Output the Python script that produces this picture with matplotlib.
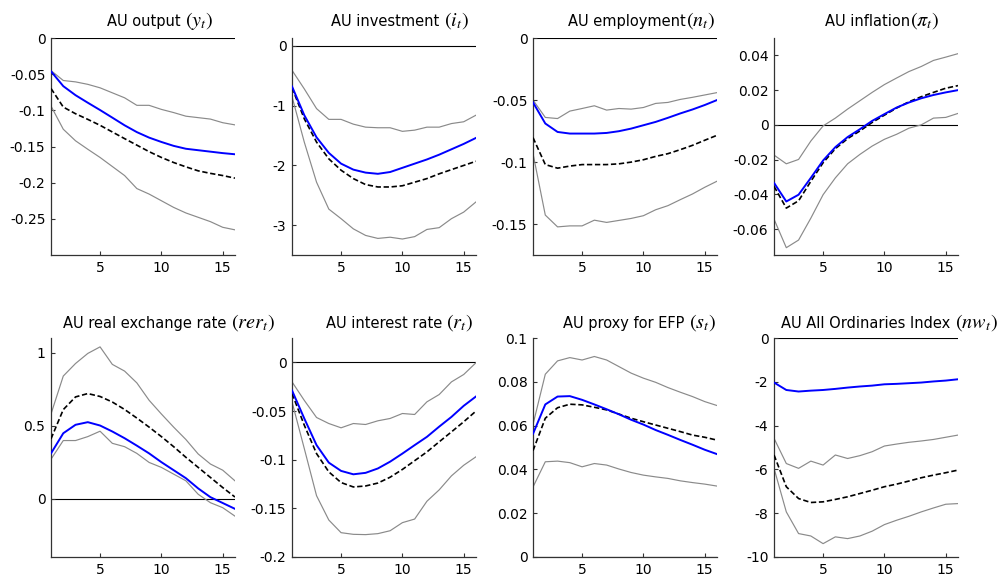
import matplotlib
matplotlib.use("Agg")
import matplotlib.pyplot as plt
import numpy as np

plt.rcParams['font.family'] = ['DejaVu Sans']
plt.rcParams['mathtext.fontset'] = 'stix'

horizon = list(range(1, 17))

title_plain = ["AU output ", "AU investment ", "AU employment", "AU inflation",
               "AU real exchange rate ", "AU interest rate ", "AU proxy for EFP ",
               "AU All Ordinaries Index "]
title_math = [r"$(y_t)$", r"$(i_t)$", r"$(n_t)$", r"$(\pi_t)$", r"$(rer_t)$",
              r"$(r_t)$", r"$(s_t)$", r"$(nw_t)$"]

# ---- output
output_blue = [-0.046, -0.0665, -0.079, -0.0894, -0.0995, -0.110, -0.1206, -0.130,
               -0.1376, -0.1436, -0.149, -0.153, -0.155, -0.157, -0.159, -0.1606]
output_dash = [-0.0697, -0.0954, -0.1046, -0.1124, -0.1206, -0.1298, -0.139, -0.148,
               -0.157, -0.165, -0.172, -0.178, -0.1835, -0.187, -0.190, -0.1936]
output_up = [-0.045, -0.0587, -0.0606, -0.064, -0.0688, -0.0757, -0.0826, -0.093,
             -0.093, -0.0986, -0.103, -0.108, -0.110, -0.112, -0.117, -0.120]
output_lo = [-0.094, -0.126, -0.142, -0.1537, -0.165, -0.1775, -0.190, -0.208,
             -0.2156, -0.2248, -0.234, -0.2417, -0.2477, -0.2537, -0.2615, -0.265]

# ---- investment
invest_blue = [-0.68, -1.16, -1.53, -1.79, -1.97, -2.07, -2.12, -2.14,
               -2.11, -2.04, -1.97, -1.90, -1.82, -1.73, -1.64, -1.54]
invest_dash = [-0.70, -1.22, -1.61, -1.89, -2.08, -2.22, -2.32, -2.36,
               -2.36, -2.34, -2.28, -2.22, -2.14, -2.07, -2.00, -1.93]
invest_up = [-0.41, -0.72, -1.05, -1.23, -1.23, -1.31, -1.36, -1.37,
             -1.37, -1.43, -1.41, -1.36, -1.36, -1.30, -1.27, -1.16]
invest_lo = [-0.85, -1.61, -2.28, -2.73, -2.89, -3.06, -3.17, -3.22,
             -3.20, -3.23, -3.19, -3.07, -3.04, -2.89, -2.78, -2.61]

# ---- employment
employ_blue = [-0.0519, -0.0689, -0.0757, -0.077, -0.077, -0.077, -0.0765, -0.0751,
               -0.073, -0.0703, -0.0676, -0.0643, -0.0608, -0.0576, -0.054, -0.050]
employ_dash = [-0.0803, -0.102, -0.1049, -0.1032, -0.102, -0.102, -0.102, -0.1014,
               -0.100, -0.0981, -0.0954, -0.0932, -0.090, -0.0865, -0.0824, -0.0784]
employ_up = [-0.050, -0.064, -0.0649, -0.0589, -0.0568, -0.0546, -0.0581, -0.0568,
             -0.0573, -0.056, -0.0527, -0.0519, -0.0495, -0.0478, -0.0459, -0.044]
employ_lo = [-0.0932, -0.1427, -0.1522, -0.1514, -0.1514, -0.1468, -0.1486, -0.147,
             -0.1454, -0.1432, -0.1384, -0.1351, -0.1303, -0.1257, -0.1203, -0.1154]

# ---- inflation
infl_blue = [-0.0334, -0.0441, -0.0402, -0.0305, -0.0205, -0.0128, -0.007, -0.0025,
             0.0023, 0.0062, 0.010, 0.0129, 0.0153, 0.0172, 0.0187, 0.020]
infl_dash = [-0.0354, -0.0479, -0.0437, -0.0325, -0.0218, -0.0137, -0.0079, -0.0035,
             0.0014, 0.0056, 0.0097, 0.0133, 0.0162, 0.0187, 0.0211, 0.0226]
infl_up = [-0.0174, -0.0224, -0.0199, -0.0093, -0.0006, 0.0039, 0.0091, 0.0139,
           0.0187, 0.0232, 0.027, 0.0307, 0.0336, 0.0371, 0.039, 0.041]
infl_lo = [-0.0543, -0.0707, -0.0663, -0.0537, -0.0402, -0.0305, -0.0224, -0.017,
           -0.0122, -0.0083, -0.0054, -0.0019, 0.000, 0.0039, 0.0043, 0.0066]

# ---- real exchange rate
rer_blue = [0.31, 0.448, 0.506, 0.524, 0.501, 0.46, 0.414, 0.363,
            0.31, 0.25, 0.195, 0.14, 0.07, 0.01, -0.03, -0.07]
rer_dash = [0.41, 0.61, 0.697, 0.72, 0.70, 0.662, 0.611, 0.552,
            0.49, 0.425, 0.356, 0.283, 0.214, 0.145, 0.076, 0.011]
rer_up = [0.58, 0.84, 0.926, 0.995, 1.04, 0.92, 0.874, 0.793,
          0.674, 0.58, 0.49, 0.405, 0.306, 0.237, 0.195, 0.122]
rer_lo = [0.27, 0.398, 0.398, 0.425, 0.462, 0.379, 0.356, 0.31,
          0.248, 0.214, 0.168, 0.122, 0.03, -0.028, -0.062, -0.12]

# ---- interest rate
rate_blue = [-0.0288, -0.0576, -0.085, -0.103, -0.1115, -0.115, -0.1135, -0.109,
             -0.102, -0.0937, -0.085, -0.0765, -0.066, -0.056, -0.0446, -0.035]
rate_dash = [-0.032, -0.0645, -0.0937, -0.1125, -0.1235, -0.128, -0.127, -0.124,
             -0.118, -0.110, -0.101, -0.092, -0.0816, -0.0714, -0.061, -0.050]
rate_up = [-0.02, -0.039, -0.0566, -0.0628, -0.0672, -0.0628, -0.0638, -0.06,
           -0.0576, -0.0525, -0.0535, -0.0405, -0.033, -0.02, -0.0124, -0.0003]
rate_lo = [-0.0405, -0.0885, -0.137, -0.162, -0.175, -0.1767, -0.177, -0.176,
           -0.173, -0.1647, -0.161, -0.1427, -0.131, -0.1166, -0.1057, -0.097]

# ---- EFP proxy
efp_blue = [0.0563, 0.0697, 0.0733, 0.0735, 0.0718, 0.0697, 0.0675, 0.0652,
            0.0627, 0.0605, 0.058, 0.0558, 0.0535, 0.0513, 0.049, 0.047]
efp_dash = [0.0486, 0.0634, 0.0682, 0.0698, 0.0695, 0.0684, 0.0672, 0.0653,
            0.0634, 0.0618, 0.0603, 0.0588, 0.0573, 0.0557, 0.0547, 0.0534]
efp_up = [0.0606, 0.0835, 0.0896, 0.0911, 0.090, 0.0916, 0.090, 0.087,
          0.084, 0.0817, 0.0798, 0.0774, 0.0753, 0.0733, 0.071, 0.0692]
efp_lo = [0.032, 0.0435, 0.0438, 0.0431, 0.0412, 0.0427, 0.042, 0.0402,
          0.0386, 0.0374, 0.0366, 0.0359, 0.0348, 0.034, 0.0333, 0.0324]

# ---- All Ordinaries
nw_blue = [-2.03, -2.37, -2.44, -2.40, -2.37, -2.32, -2.26, -2.21,
           -2.17, -2.11, -2.09, -2.06, -2.03, -1.98, -1.94, -1.88]
nw_dash = [-5.34, -6.79, -7.33, -7.51, -7.48, -7.37, -7.25, -7.10,
           -6.95, -6.79, -6.67, -6.53, -6.38, -6.26, -6.15, -6.03]
nw_up = [-4.58, -5.73, -5.95, -5.62, -5.80, -5.34, -5.50, -5.37,
         -5.19, -4.93, -4.84, -4.76, -4.70, -4.63, -4.53, -4.43]
nw_lo = [-5.95, -7.94, -8.93, -9.04, -9.39, -9.08, -9.16, -9.04,
         -8.82, -8.52, -8.32, -8.14, -7.94, -7.76, -7.59, -7.56]

yticks = [
    ([0, -0.05, -0.1, -0.15, -0.2, -0.25], ["0", "-0.05", "-0.1", "-0.15", "-0.2", "-0.25"]),
    ([0, -1, -2, -3], ["0", "-1", "-2", "-3"]),
    ([0, -0.05, -0.1, -0.15], ["0", "-0.05", "-0.1", "-0.15"]),
    ([0.04, 0.02, 0, -0.02, -0.04, -0.06], ["0.04", "0.02", "0", "-0.02", "-0.04", "-0.06"]),
    ([1, 0.5, 0], ["1", "0.5", "0"]),
    ([0, -0.05, -0.1, -0.15, -0.2], ["0", "-0.05", "-0.1", "-0.15", "-0.2"]),
    ([0.1, 0.08, 0.06, 0.04, 0.02, 0], ["0.1", "0.08", "0.06", "0.04", "0.02", "0"]),
    ([0, -2, -4, -6, -8, -10], ["0", "-2", "-4", "-6", "-8", "-10"]),
]
xtick_vals = [5, 10, 15]

panels = [
    (output_blue, output_dash, output_up, output_lo),
    (invest_blue, invest_dash, invest_up, invest_lo),
    (employ_blue, employ_dash, employ_up, employ_lo),
    (infl_blue, infl_dash, infl_up, infl_lo),
    (rer_blue, rer_dash, rer_up, rer_lo),
    (rate_blue, rate_dash, rate_up, rate_lo),
    (efp_blue, efp_dash, efp_up, efp_lo),
    (nw_blue, nw_dash, nw_up, nw_lo),
]

ylims = [(-0.3, 0.0), (-3.5, 0.13), (-0.175, 0.0), (-0.075, 0.05),
         (-0.4, 1.1), (-0.2, 0.025), (0.0, 0.1), (-10, 0)]
# title centres in figure pixels, baseline heights
title_cx = [160, 399.5, 641.5, 882, 168.5, 399.5, 640, 889.5]
title_base = [0.955, 0.4306]

W, H = 1008, 576
fig = plt.figure(figsize=(W / 100, H / 100), dpi=100)
lefts = [0.0506, 0.2897, 0.5288, 0.7679]
width = 0.1825
rows = [(0.557, 0.377), (0.033, 0.380)]

title_pairs = []
for k in range(8):
    r, c = divmod(k, 4)
    b, h = rows[r]
    ax = fig.add_axes([lefts[c], b, width, h])
    blue, dash, up, lo = panels[k]
    ax.axhline(0, color='black', lw=0.8, zorder=1)
    ax.plot(horizon, up, color='#8a8a8a', lw=0.85, zorder=2)
    ax.plot(horizon, lo, color='#8a8a8a', lw=0.85, zorder=2)
    ax.plot(horizon, dash, color='black', lw=1.2, ls=(0, (3.2, 1.6)), zorder=3)
    ax.plot(horizon, blue, color='#0000ff', lw=1.4, zorder=4)
    ax.set_xlim(1, 16)
    ax.set_ylim(*ylims[k])
    ax.set_xticks(xtick_vals)
    ax.set_xticklabels([str(v) for v in xtick_vals])
    ax.set_yticks(yticks[k][0])
    ax.set_yticklabels(yticks[k][1])
    for s in ['top', 'right']:
        ax.spines[s].set_visible(False)
    for s in ['left', 'bottom']:
        ax.spines[s].set_color('#333333')
        ax.spines[s].set_linewidth(0.9)
    ax.tick_params(direction='in', length=3, width=0.8, labelsize=10,
                   colors='#333333', labelcolor='black', pad=4)
    t1 = fig.text(0, title_base[r], title_plain[k], fontsize=10.5,
                  ha='left', va='baseline')
    t2 = fig.text(0, title_base[r], title_math[k], fontsize=14.5,
                  ha='left', va='baseline')
    title_pairs.append((t1, t2, title_cx[k]))

fig.canvas.draw()
renderer = fig.canvas.get_renderer()
for t1, t2, cx in title_pairs:
    w1 = t1.get_window_extent(renderer).width
    w2 = t2.get_window_extent(renderer).width
    x0 = cx - (w1 + w2) / 2
    t1.set_x(x0 / W)
    t2.set_x((x0 + w1) / W)

fig.savefig("out.png", dpi=100)
